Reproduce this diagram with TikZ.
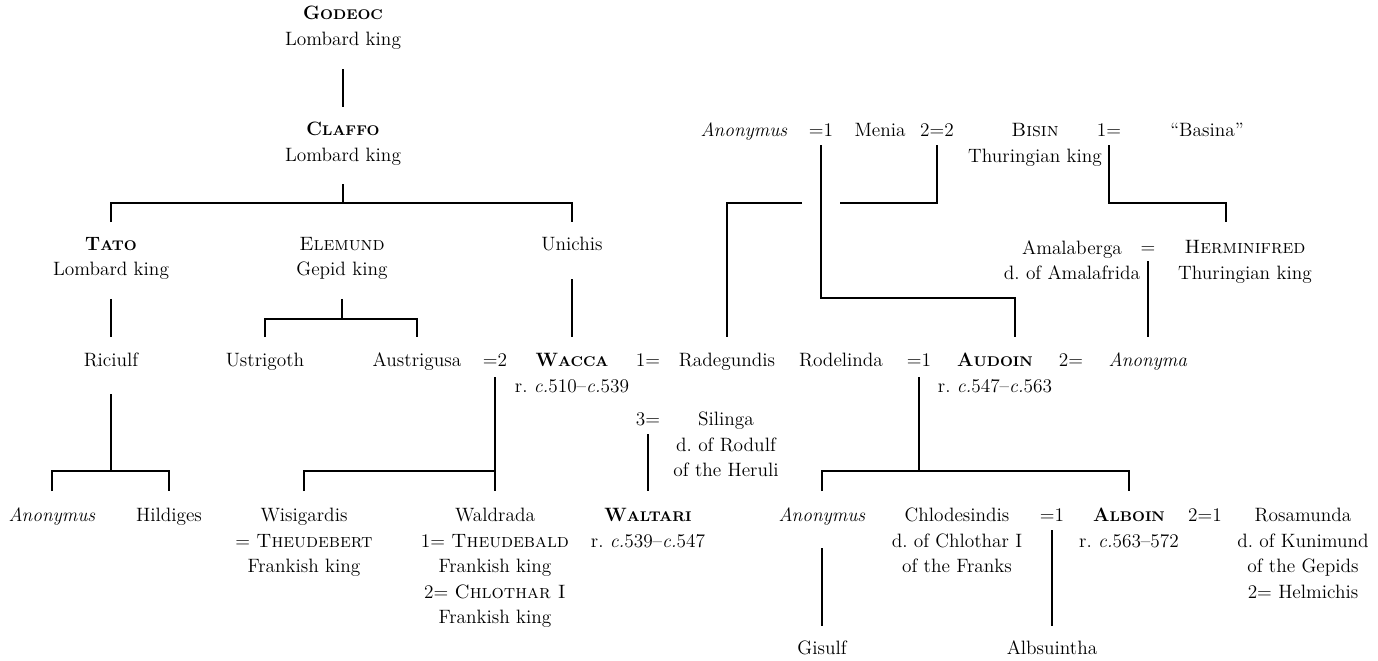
\documentclass[tikz,border=0pt]{standalone}
\usetikzlibrary{calc}

\newcommand{\boldsc}[2]{\textbf{#1{\fontsize{8pt}{14.5pt}\selectfont #2}}}

\tikzset{
    person/.style={anchor=north, align=center, inner sep=0pt,
        font=\fontsize{11pt}{14.5pt}\selectfont,
        execute at begin node=\strut, execute at end node=\strut},
    kin/.style={line width=1.1pt},
}

\begin{document}
\begin{tikzpicture}[x=0.02cm, y=-0.02cm]
    \useasboundingbox (0,0) rectangle (1378,660);

    % Lombard line
    \node[person] (godeoc) at (343,6) {\boldsc{G}{ODEOC}\\Lombard king};
    \node[person] (claffo) at (343,122) {\boldsc{C}{LAFFO}\\Lombard king};
    \node[person] (tato) at (111,237) {\boldsc{T}{ATO}\\Lombard king};
    \node[person] (elemund) at (342,237) {\textsc{Elemund}\\Gepid king};
    \node[person] (unichis) at (572,232) {Unichis};

    % Thuringians
    \node[person] (anon3) at (744,118) {\textit{Anonymus}};
    \node[person] (eqmen) at (821,118) {=1};
    \node[person] (menia) at (880,118) {Menia};
    \node[person] (eqbis) at (937,118) {2=2};
    \node[person] (bisin) at (1035,123) {\textsc{Bisin}\\Thuringian king};
    \node[person] (eqbas) at (1109,118) {1=};
    \node[person] (basina) at (1207,118) {``Basina''};
    \node[person] (amalaberga) at (1072,240) {Amalaberga\\d.\ of Amalafrida};
    \node[person] (eqher) at (1148,235) {=};
    \node[person] (herminifred) at (1245,240) {\textsc{Herminifred}\\Thuringian king};

    % Middle row
    \node[person] (riciulf) at (111,348) {Riciulf};
    \node[person] (ustrigoth) at (265,348) {Ustrigoth};
    \node[person] (austrigusa) at (417,348) {Austrigusa};
    \node[person] (eq2) at (495,348) {=2};
    \node[person] (wacca) at (572,353) {\boldsc{W}{ACCA}\\r.\ \textit{c.}510--\textit{c.}539};
    \node[person] (eqrad) at (648,348) {1=};
    \node[person] (radegundis) at (727,348) {Radegundis};
    \node[person] (rodelinda) at (841,348) {Rodelinda};
    \node[person] (eqaud) at (919,348) {=1};
    \node[person] (audoin) at (995,353) {\boldsc{A}{UDOIN}\\r.\ \textit{c.}547--\textit{c.}563};
    \node[person] (eqano) at (1071,348) {2=};
    \node[person] (anonyma) at (1148,348) {\textit{Anonyma}};
    \node[person] (eq3) at (648,407) {3=};
    \node[person] (silinga) at (726,412) {Silinga\\d.\ of Rodulf\\of the Heruli};

    % Bottom row
    \node[person] (anon1) at (52,503) {\textit{Anonymus}};
    \node[person] (hildiges) at (169,503) {Hildiges};
    \node[person] (wisigardis) at (304,508) {Wisigardis\\= \textsc{Theudebert}\\Frankish king};
    \node[person] (waldrada) at (495,508) {Waldrada\\1= \textsc{Theudebald}\\Frankish king\\2= \textsc{Chlothar I}\\Frankish king};
    \node[person] (waltari) at (648,508) {\boldsc{W}{ALTARI}\\r.\ \textit{c.}539--\textit{c.}547};
    \node[person] (anon2) at (822,503) {\textit{Anonymus}};
    \node[person] (chlodesindis) at (957,508) {Chlodesindis\\d.\ of Chlothar I\\of the Franks};
    \node[person] (eqalb) at (1052,503) {=1};
    \node[person] (alboin) at (1129,508) {\boldsc{A}{LBOIN}\\r.\ \textit{c.}563--572};
    \node[person] (eqros) at (1205,503) {2=1};
    \node[person] (rosamunda) at (1303,508) {Rosamunda\\d.\ of Kunimund\\of the Gepids\\2= Helmichis};
    \node[person] (gisulf) at (822,636) {Gisulf};
    \node[person] (albsuintha) at (1052,636) {Albsuintha};

    % Junctions
    \coordinate (claffobar) at ($(claffo.south)+(0,34)$);
    \coordinate (elemundbar) at ($(elemund.south)+(0,35)$);
    \coordinate (riciulfbar) at ($(riciulf.south)+(0,97)$);
    \coordinate (eq2bar) at ($(eq2.south)+(0,97)$);
    \coordinate (audbar) at ($(eqaud.south)+(0,97)$);
    \coordinate (menbar) at ($(eqmen.south)+(0,154)$);
    \coordinate (bisbar) at ($(eqbis.south)+(0,59)$);
    \coordinate (basbar) at ($(eqbas.south)+(0,59)$);
    \coordinate (crossbis) at (menbar |- bisbar);

    % Descent lines
    \draw[kin] ($(godeoc.south)+(0,16)$) -- ($(claffo.north)+(0,-15)$);
    \draw[kin] ($(claffo.south)+(0,15)$) -- (claffobar);
    \draw[kin] ($(tato.north)+(0,-15)$) |- (claffobar) -| ($(unichis.north)+(0,-10)$);
    \draw[kin] ($(tato.south)+(0,15)$) -- ($(riciulf.north)+(0,-11)$);
    \draw[kin] ($(elemund.south)+(0,15)$) -- (elemundbar);
    \draw[kin] ($(ustrigoth.north)+(0,-11)$) |- (elemundbar) -| ($(austrigusa.north)+(0,-11)$);
    \draw[kin] ($(unichis.south)+(0,21)$) -- ($(wacca.north)+(0,-16)$);
    \draw[kin] ($(riciulf.south)+(0,20)$) -- (riciulfbar);
    \draw[kin] ($(anon1.north)+(0,-12)$) |- (riciulfbar) -| ($(hildiges.north)+(0,-12)$);
    \draw[kin] ($(eq2.south)+(0,3)$) -- ($(waldrada.north)+(0,-17)$);
    \draw[kin] ($(wisigardis.north)+(0,-17)$) |- (eq2bar);
    \draw[kin] ($(eq3.south)+(0,1)$) -- ($(waltari.north)+(0,-17)$);
    \draw[kin] ($(eqaud.south)+(0,3)$) -- (audbar);
    \draw[kin] ($(anon2.north)+(0,-12)$) |- (audbar) -| ($(alboin.north)+(0,-17)$);
    \draw[kin] ($(anon2.south)+(0,19)$) -- ($(gisulf.north)+(0,-10)$);
    \draw[kin] ($(eqalb.south)+(0,1)$) -- ($(albsuintha.north)+(0,-10)$);

    % Menia and Bisin
    \draw[kin] ($(eqmen.south)+(0,1)$) -- (menbar) -| ($(audoin.north)+(20,-16)$);
    \draw[kin] ($(eqbis.south)+(0,1)$) |- ($(crossbis)+(19,0)$);
    \draw[kin] ($(crossbis)+(-19,0)$) -| ($(radegundis.north)+(0,-11)$);
    \draw[kin] ($(eqbas.south)+(0,1)$) -- (basbar) -| ($(herminifred.north)+(-19,-18)$);
    \draw[kin] ($(eqher.south)+(0,0)$) -- ($(anonyma.north)+(0,-11)$);

\end{tikzpicture}
\end{document}
